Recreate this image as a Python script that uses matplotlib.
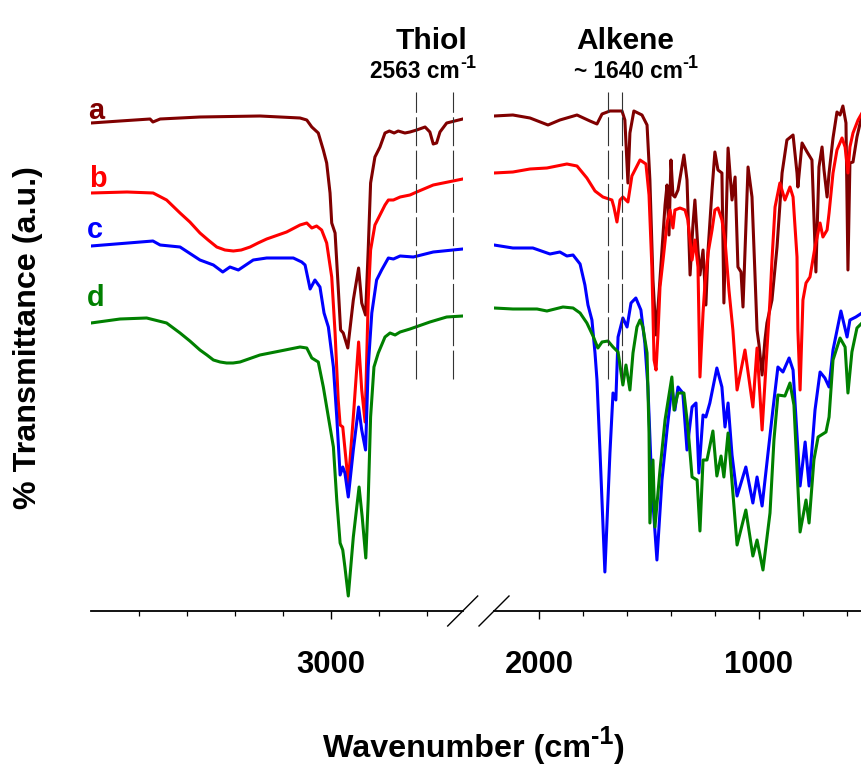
import matplotlib
matplotlib.use("Agg")
import matplotlib.pyplot as plt
from matplotlib import font_manager as fm
from matplotlib.lines import Line2D

# spectra: wavenumber (cm-1) and transmittance (a.u., offset traces)
# high-wavenumber segment (4000-2450) and low-wavenumber segment (2206-530)
a_wn_hi = [4000, 3879, 3754, 3742, 3712, 3546, 3296, 3129, 3101, 3080, 3053, 3032, 3018, 3004,
           2997, 2983, 2970, 2960, 2949, 2930, 2907, 2885, 2872, 2856, 2845, 2835, 2817, 2796,
           2775, 2757, 2737, 2720, 2692, 2671, 2643, 2608, 2588, 2574, 2560, 2546, 2518, 2451]
a_t_hi = [488, 490, 492, 489, 492, 494, 495, 493, 491, 484, 478, 461, 448, 418,
          388, 378, 324, 281, 278, 263, 311, 343, 308, 296, 361, 428, 454, 464,
          478, 480, 478, 480, 478, 479, 481, 484, 479, 467, 468, 479, 488, 492]

b_wn_hi = [4000, 3850, 3741, 3685, 3629, 3588, 3546, 3512, 3476, 3442, 3407, 3374, 3337, 3304,
           3268, 3185, 3129, 3101, 3080, 3060, 3039, 3018, 2997, 2983, 2970, 2962, 2951, 2928,
           2907, 2885, 2872, 2858, 2845, 2835, 2817, 2796, 2775, 2761, 2740, 2712, 2671, 2643,
           2574, 2451]
b_t_hi = [418, 419, 418, 411, 398, 389, 378, 371, 364, 361, 360, 361, 364, 368,
          372, 379, 386, 388, 383, 385, 381, 368, 334, 278, 211, 186, 184, 128,
          194, 269, 221, 189, 311, 361, 386, 396, 406, 411, 411, 414, 416, 419,
          426, 432]

c_wn_hi = [4000, 3742, 3712, 3629, 3546, 3490, 3451, 3421, 3386, 3324, 3268, 3157, 3122,
           3108, 3087, 3067, 3046, 3029, 3011, 2990, 2976, 2962, 2951, 2942, 2928, 2907,
           2885, 2872, 2856, 2845, 2830, 2810, 2789, 2761, 2740, 2712, 2657, 2574, 2451]
c_t_hi = [365, 370, 366, 364, 351, 346, 339, 344, 341, 351, 353, 353, 349,
          346, 322, 331, 324, 298, 284, 244, 194, 136, 144, 138, 114, 161,
          204, 181, 161, 244, 298, 331, 341, 353, 352, 355, 354, 359, 362]

d_wn_hi = [4000, 3879, 3768, 3685, 3629, 3588, 3546, 3517, 3490, 3462, 3435, 3408, 3379, 3296,
           3212, 3129, 3101, 3080, 3053, 3032, 3004, 2990, 2976, 2962, 2951, 2942, 2928, 2907,
           2883, 2870, 2855, 2845, 2835, 2821, 2803, 2775, 2754, 2733, 2712, 2671, 2588, 2518,
           2451]
d_t_hi = [288, 292, 293, 288, 278, 270, 261, 256, 251, 249, 248, 248, 249, 256,
          260, 264, 263, 253, 249, 224, 184, 164, 111, 68, 61, 44, 15, 74,
          124, 94, 53, 111, 194, 244, 258, 274, 278, 276, 279, 282, 289, 294,
          295]

a_wn_lo = [2206, 2120, 2042, 1960, 1906, 1828, 1769, 1737, 1714, 1678, 1623, 1610, 1596, 1587,
           1569, 1532, 1509, 1496, 1482, 1468, 1455, 1441, 1427, 1418, 1409, 1400, 1391, 1382,
           1368, 1341, 1327, 1313, 1300, 1291, 1277, 1268, 1254, 1241, 1231, 1213, 1200, 1186,
           1168, 1159, 1140, 1122, 1108, 1095, 1081, 1072, 1049, 1031, 1017, 1008, 999, 985,
           972, 963, 940, 917, 894, 872, 844, 826, 822, 803, 780, 758, 740, 726,
           712, 703, 689, 680, 662, 644, 630, 617, 603, 594, 585, 571, 553, 530]
a_t_lo = [495, 496, 493, 486, 491, 496, 490, 487, 497, 500, 500, 491, 428, 478,
          500, 496, 486, 431, 331, 276, 316, 361, 406, 426, 376, 451, 416, 414,
          421, 456, 431, 336, 386, 411, 361, 336, 361, 306, 361, 421, 459, 441,
          438, 308, 463, 411, 434, 344, 339, 304, 444, 414, 334, 281, 266, 236,
          271, 288, 311, 364, 438, 471, 476, 438, 424, 468, 459, 451, 339, 444,
          464, 441, 414, 438, 473, 499, 496, 505, 488, 341, 448, 449, 474, 496]

b_wn_lo = [2206, 2120, 2042, 1965, 1874, 1828, 1783, 1746, 1710, 1669, 1660, 1646, 1632, 1619,
           1596, 1578, 1541, 1514, 1500, 1487, 1477, 1468, 1459, 1450, 1436, 1418, 1404, 1391,
           1382, 1359, 1336, 1323, 1304, 1291, 1277, 1268, 1254, 1245, 1231, 1213, 1200, 1186,
           1168, 1154, 1136, 1118, 1099, 1063, 1027, 1008, 985, 963, 949, 940, 926, 904,
           881, 858, 844, 826, 822, 812, 799, 785, 767, 744, 721, 708, 689, 680,
           662, 644, 621, 607, 594, 585, 571, 548, 530]
b_t_lo = [438, 439, 442, 443, 447, 445, 433, 420, 414, 411, 404, 389, 411, 414,
          409, 435, 451, 447, 416, 344, 251, 241, 278, 324, 351, 388, 401, 383,
          401, 403, 401, 391, 351, 371, 344, 234, 298, 328, 358, 381, 401, 403,
          391, 371, 321, 281, 221, 261, 204, 263, 181, 261, 311, 351, 404, 428,
          411, 424, 414, 354, 281, 221, 311, 328, 334, 364, 388, 374, 381, 398,
          438, 461, 473, 464, 438, 464, 478, 491, 498]

c_wn_lo = [2206, 2120, 2029, 1951, 1906, 1874, 1846, 1814, 1792, 1778, 1760, 1746, 1737, 1723,
           1701, 1678, 1664, 1651, 1641, 1619, 1600, 1582, 1560, 1537, 1519, 1505, 1487, 1464,
           1441, 1418, 1396, 1382, 1368, 1346, 1327, 1304, 1286, 1273, 1254, 1241, 1223, 1191,
           1168, 1154, 1140, 1122, 1099, 1059, 1027, 1008, 985, 958, 936, 913, 890, 862,
           844, 812, 789, 771, 744, 721, 699, 680, 662, 626, 598, 585, 558, 530]
c_t_lo = [366, 363, 363, 357, 359, 355, 356, 347, 326, 306, 291, 258, 231, 158,
          39, 158, 218, 211, 274, 293, 284, 308, 313, 301, 268, 224, 124, 51,
          131, 181, 224, 201, 224, 218, 161, 204, 208, 138, 196, 194, 208, 243,
          224, 184, 208, 156, 115, 144, 108, 134, 105, 158, 201, 244, 239, 253,
          241, 125, 169, 125, 201, 239, 233, 224, 261, 300, 274, 291, 294, 298]

d_wn_lo = [2206, 2120, 2010, 1965, 1892, 1846, 1814, 1783, 1755, 1733, 1714, 1687, 1664, 1641,
           1619, 1605, 1587, 1573, 1555, 1541, 1528, 1509, 1500, 1496, 1482, 1473, 1450, 1427,
           1396, 1386, 1368, 1341, 1323, 1304, 1281, 1268, 1254, 1236, 1209, 1191, 1172, 1159,
           1140, 1118, 1099, 1059, 1027, 1008, 981, 949, 931, 913, 881, 858, 840, 812,
           785, 771, 749, 730, 694, 680, 662, 630, 607, 594, 576, 553, 530]
d_t_lo = [303, 302, 302, 300, 304, 303, 298, 288, 275, 263, 269, 270, 264, 259,
          226, 246, 221, 258, 284, 291, 284, 258, 178, 88, 151, 84, 141, 191,
          234, 201, 218, 218, 184, 134, 131, 80, 151, 151, 180, 135, 155, 134,
          178, 118, 66, 101, 55, 71, 41, 98, 171, 216, 215, 228, 206, 79,
          111, 88, 151, 174, 179, 194, 251, 273, 264, 218, 259, 283, 288]

labels = ["a", "b", "c", "d"]
colors = ["#800000", "#ff0000", "#0000ff", "#008000"]
thiol_lines = [2645, 2490]
alkene_lines = [1685, 1625]

# font: narrow bold if available, else regular Liberation Sans scaled down
avail = {f.name for f in fm.fontManager.ttflist}
narrow = "Liberation Sans Narrow" in avail
FONT = "Liberation Sans Narrow" if narrow else "Liberation Sans"
k = 1.0 if narrow else 0.86
plt.rcParams["font.family"] = [FONT, "DejaVu Sans"]
plt.rcParams["font.weight"] = "bold"

W, H = 862, 767
fig = plt.figure(figsize=(W / 100, H / 100), dpi=100)
ax_hi = fig.add_axes([91 / W, 156 / H, 372 / W, 523 / H])
ax_lo = fig.add_axes([494 / W, 156 / H, 368 / W, 523 / H])

hi = [(a_wn_hi, a_t_hi), (b_wn_hi, b_t_hi), (c_wn_hi, c_t_hi), (d_wn_hi, d_t_hi)]
lo = [(a_wn_lo, a_t_lo), (b_wn_lo, b_t_lo), (c_wn_lo, c_t_lo), (d_wn_lo, d_t_lo)]
for (x1, y1), (x2, y2), col in zip(hi, lo, colors):
    ax_hi.plot(x1, y1, color=col, lw=2.2, solid_joinstyle="round")
    ax_lo.plot(x2, y2, color=col, lw=2.2, solid_joinstyle="round")

for ax, lines in ((ax_hi, thiol_lines), (ax_lo, alkene_lines)):
    for xv in lines:
        ax.plot([xv, xv], [232, 519], color="#333333", lw=0.8, dashes=(26, 4))

ax_hi.set_xlim(4000, 2450)
ax_lo.set_xlim(2206, 530)
ax_hi.set_xticks([3000])
ax_hi.set_xticks([3800, 3600, 3400, 3200, 2800, 2600], minor=True)
ax_lo.set_xticks([2000, 1000])
ax_lo.set_xticks([1800, 1600, 1400, 1200, 800, 600], minor=True)

for ax in (ax_hi, ax_lo):
    ax.set_ylim(0, 523)
    ax.patch.set_visible(False)
    for s in ("top", "left", "right"):
        ax.spines[s].set_visible(False)
    ax.spines["bottom"].set_linewidth(1.3)
    ax.set_yticks([])
    ax.tick_params(axis="x", which="major", direction="out", length=5.8, width=1.0,
                   pad=22, labelsize=26 * k)
    ax.tick_params(axis="x", which="minor", direction="out", length=3.6, width=0.9)
    for lab in ax.get_xticklabels():
        lab.set_fontweight("bold")

# axis break marks
for x0 in (447.7, 479.0):
    fig.add_artist(Line2D([x0 / W, (x0 + 30) / W], [1 - 626 / H, 1 - 596 / H],
                          transform=fig.transFigure, color="black", lw=1.0))

renderer = fig.canvas.get_renderer()


def sup_label(cx, base_y, parts):
    # parts: (text, fontsize, rise in px); laid out left to right, centred on cx
    txts = []
    for s, fs, rise in parts:
        t = fig.text(0, 1 - (base_y - rise) / H, s, fontsize=fs, fontweight="bold",
                     ha="left", va="baseline")
        txts.append(t)
    widths = [t.get_window_extent(renderer).width for t in txts]
    x = cx - sum(widths) / 2
    for t, w in zip(txts, widths):
        t.set_x(x / W)
        x += w


fig.text(28 / W, 1 - 338 / H, "% Transmittance (a.u.)", rotation=90, ha="center", va="center",
         fontsize=27 * k, fontweight="bold")
sup_label(474, 757, [("Wavenumber (cm", 27 * k, 0), ("-1", 21 * k, 13), (")", 27 * k, 0)])
fig.text(432 / W, 1 - 49 / H, "Thiol", ha="center", va="baseline", fontsize=25 * k, fontweight="bold")
sup_label(423, 78, [("2563 cm", 19 * k, 0), ("-1", 15 * k, 10)])
fig.text(625 / W, 1 - 49 / H, "Alkene", ha="center", va="baseline", fontsize=25 * k, fontweight="bold")
sup_label(636, 78, [("~ 1640 cm", 19 * k, 0), ("-1", 15 * k, 10)])

letter_pos = [(88, 119), (89, 187), (87, 238), (87, 306)]
for lab, col, (lx, ly) in zip(labels, colors, letter_pos):
    fig.text(lx / W, 1 - ly / H, lab, color=col, ha="left", va="baseline", fontsize=22 * k * 1.1,
             fontweight="bold")

fig.savefig("out.png", dpi=100)
